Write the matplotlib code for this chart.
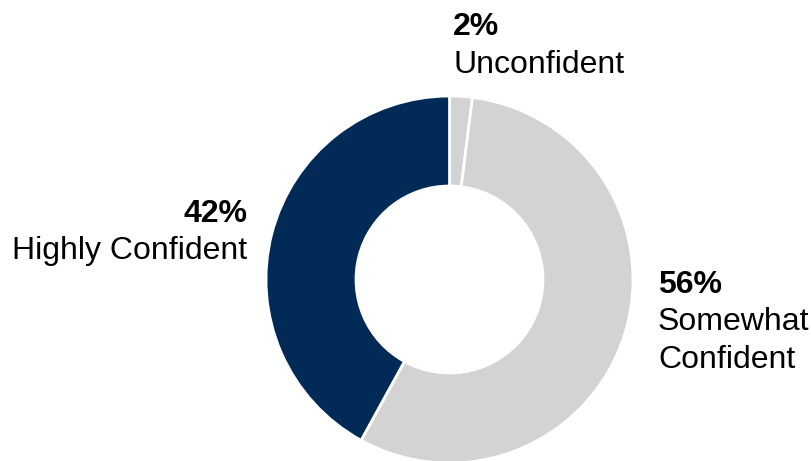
import matplotlib.pyplot as plt

plt.rcParams['font.family'] = ['Liberation Sans', 'DejaVu Sans']

labels = ["Unconfident", "Somewhat\nConfident", "Highly Confident"]
values = [2, 56, 42]
colors = ["#D3D3D3", "#D3D3D3", "#012A56"]

W, H = 811, 461
fig = plt.figure(figsize=(W / 100, H / 100), dpi=100)
ax = fig.add_axes([0, 0, 1, 1])

# donut, drawn in pixel-sized data units
cx, cy, r = 449.5, H - 279.5, 183.5
ax.pie(values, colors=colors, startangle=90, counterclock=False,
       center=(cx, cy), radius=r,
       wedgeprops=dict(width=90, edgecolor="white", linewidth=2))
ax.set_xlim(0, W)
ax.set_ylim(0, H)
ax.set_aspect("equal")
ax.axis("off")

fs = 23
# (x, baseline y from top, alignment) for each label block
spots = [(453, 35, "left"), (658, 293, "left"), (247, 222, "right")]
pitch = 37.5
for val, lab, (x, y, ha) in zip(values, labels, spots):
    ax.text(x, H - y, f"{val}%", fontsize=fs, fontweight="bold",
            ha=ha, va="baseline")
    for i, line in enumerate(lab.split("\n")):
        ax.text(x, H - y - pitch * (i + 1), line, fontsize=fs,
                ha=ha, va="baseline")

fig.savefig("out.png", dpi=100)
